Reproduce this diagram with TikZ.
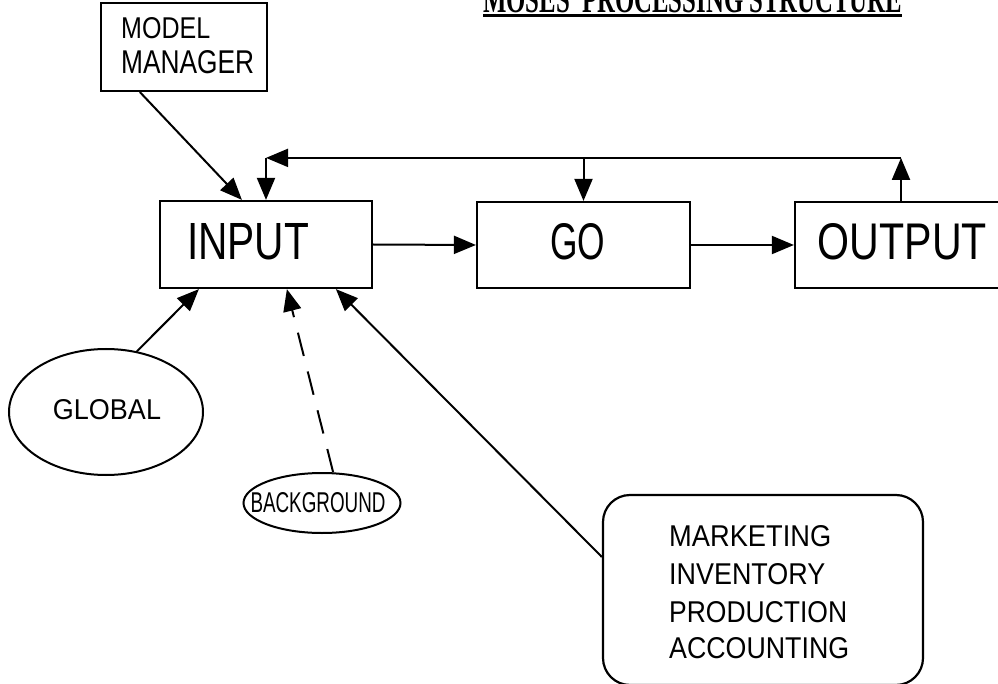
\documentclass[tikz,border=0pt]{standalone}
\usepackage{graphicx}
\usepackage{fontspec}
\setmainfont{Liberation Sans}
\newfontfamily\titlefont{Liberation Serif}
\usetikzlibrary{arrows.meta,shapes.geometric}
% capital lettering stretched to a given width and cap height
\newcommand{\caps}[3]{\resizebox{#1}{#2}{#3}}
\begin{document}
\begin{tikzpicture}[x=1pt,y=-1pt,
  box/.style={draw, line width=2.2pt, inner sep=0pt},
  oval/.style={draw, ellipse, line width=2pt, inner sep=0pt},
  txt/.style={inner sep=0pt},
  flow/.style={-{Triangle[length=22pt,width=18pt]}, line width=2pt},
  hint/.style={flow, dash pattern=on 24pt off 16pt}]
\clip (0,0) rectangle (998,684);

% title
\node[txt, anchor=base west] (title) at (483,13)
  {\caps{419pt}{26pt}{\titlefont\bfseries MOSES\ \ PROCESSING\ STRUCTURE}};
\draw[line width=2.5pt] ([yshift=-2.5pt]title.base west) -- ([yshift=-2.5pt]title.base east);

% main processing chain
\node[box, minimum width=212pt, minimum height=87pt] (input)  at (266,244.5) {};
\node[box, minimum width=213pt, minimum height=86pt] (go)     at (583.5,245) {};
\node[box, minimum width=212pt, minimum height=86pt] (output) at (901,245) {};
\node[txt] (input-t)  at (248,242)   {\caps{122pt}{36pt}{INPUT}};
\node[txt] (go-t)     at (577.5,242) {\caps{55pt}{36pt}{GO}};
\node[txt] (output-t) at (902.5,242) {\caps{169pt}{36pt}{OUTPUT}};

% model manager
\node[box, minimum width=166pt, minimum height=88pt] (mm) at (184,47) {};
\node[txt, anchor=west] (mm-1) at (121,28) {\caps{89pt}{21pt}{MODEL}};
\node[txt, anchor=west] (mm-2) at (121,62) {\caps{133pt}{23pt}{MANAGER}};

% data sources
\node[oval, minimum width=194pt, minimum height=126pt] (global) at (106,412) {};
\node[txt] (global-t) at (107,410) {\caps{108pt}{20pt}{GLOBAL}};
\node[oval, minimum width=157pt, minimum height=60pt] (background) at (322,503) {};
\node[txt] (background-t) at (318,503) {\caps{135pt}{20pt}{BACKGROUND}};

% sector modules
\node[box, rounded corners=27pt, minimum width=320pt, minimum height=190pt] (dept) at (763,590) {};
\foreach \w/\y/\s [count=\i] in {162pt/536/MARKETING, 156pt/574/INVENTORY,
                                  178pt/612/PRODUCTION, 180pt/648/ACCOUNTING}
  \node[txt, anchor=west] (dept-\i) at (669,\y) {\caps{\w}{21pt}{\s}};

% flow between stages
\draw[flow] (input.east) -- (go.west);
\draw[flow] (go.east) -- (output.west);

% feedback loop
\coordinate (fb) at ([yshift=43pt]output.north);
\draw[flow] (output.north) -- (fb);
\draw[flow] (fb) -- (input.north |- fb);
\draw[flow] (input.north |- fb) -- (input.north);
\draw[flow] (go.north |- fb) -- (go.north);

% inputs to INPUT
\draw[flow] ([xshift=40pt]mm.south west) -- ([xshift=83pt]input.north west);
\draw[flow] (global.63) -- ([xshift=40pt]input.south west);
\draw[hint] (background.70) -- ([xshift=128pt]input.south west);
\draw[flow] ([yshift=33pt]dept.west) -- ([xshift=177pt]input.south west);
\end{tikzpicture}
\end{document}
